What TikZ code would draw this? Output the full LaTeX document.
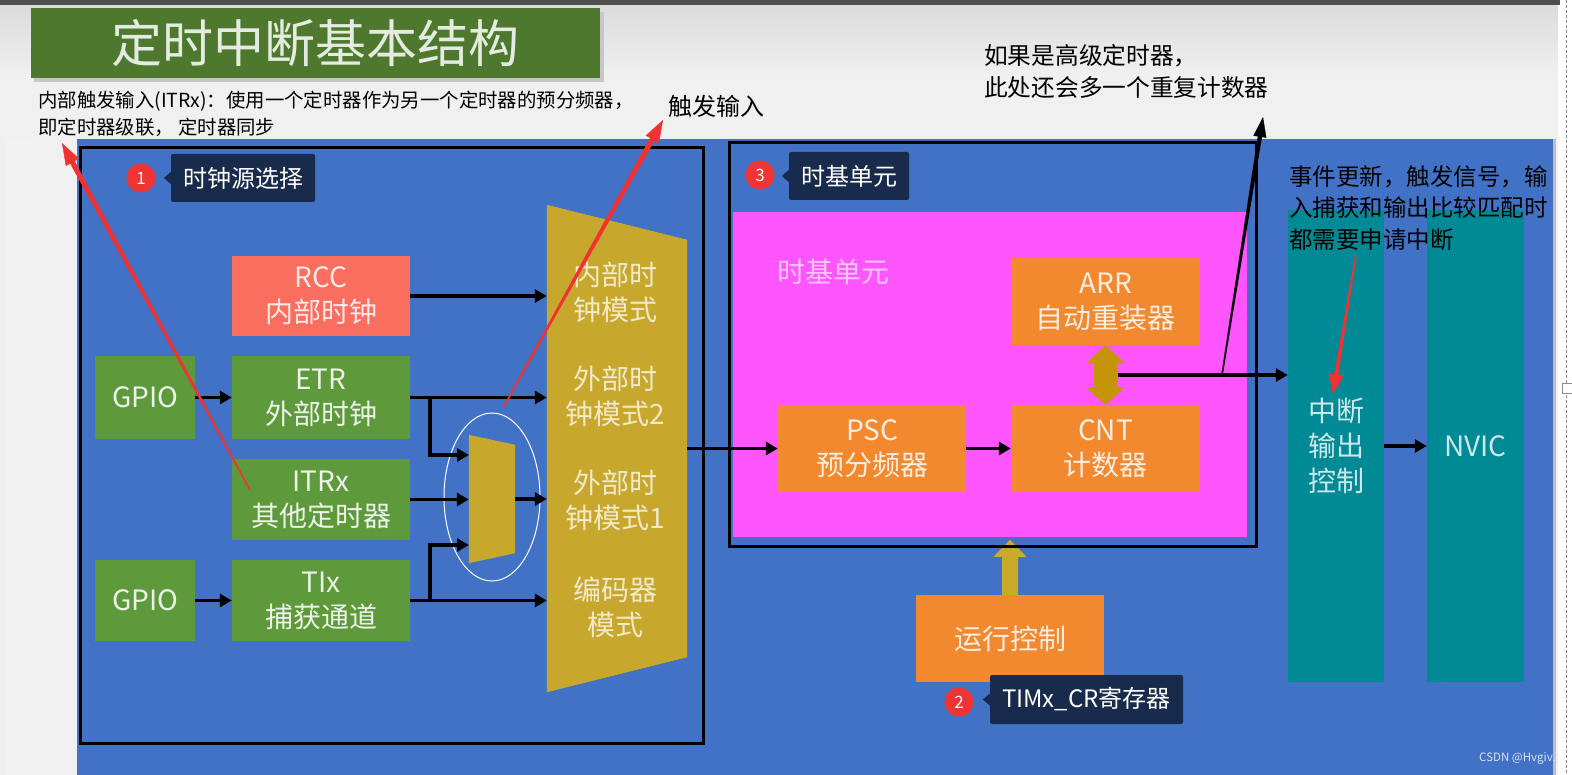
\documentclass[tikz,border=0pt]{standalone}
\usepackage{fontspec}
\setmainfont{Noto Sans CJK SC}
\usetikzlibrary{arrows.meta,calc,shapes.geometric}
\definecolor{bgblue}{RGB}{66,114,198}
\definecolor{gGreen}{RGB}{94,154,60}
\definecolor{rccRed}{RGB}{250,110,95}
\definecolor{muxGold}{RGB}{200,168,44}
\definecolor{pinkM}{RGB}{255,85,255}
\definecolor{orangeB}{RGB}{242,137,46}
\definecolor{dArrGold}{RGB}{198,148,8}
\definecolor{upGold}{RGB}{202,170,40}
\definecolor{tealC}{RGB}{0,138,150}
\definecolor{navyL}{RGB}{24,43,77}
\definecolor{redC}{RGB}{238,52,52}
\definecolor{titleG}{RGB}{78,120,46}
\definecolor{topBar}{RGB}{78,78,78}
\definecolor{paleBg}{RGB}{240,240,240}
\definecolor{annRed}{RGB}{240,50,50}
\newcommand\annarrow[7]{%
  \path ($(#3)!10pt!(#2)$) coordinate (#3-e);
  \fill[#1] ($(#2)!#4!90:(#3)$) -- ($(#2)!#4!-90:(#3)$) -- ($(#3-e)!#5!90:(#2)$) -- ($(#3-e)!#5!-90:(#2)$) -- cycle;
  \draw[#1, line width=0.4pt, -{Triangle[length=#6,width=#7]}] ($(#3)!30pt!(#2)$) -- (#3);
}
\tikzset{
  blk/.style={inner sep=0pt, align=center, font=\fontsize{28}{35}\selectfont},
  greenb/.style={blk, fill=gGreen, text=white!88!gGreen},
  orangeb/.style={blk, fill=orangeB, text=white!85!orangeB},
  tealb/.style={blk, fill=tealC, text=white!80!tealC},
  muxt/.style={blk, text=white!75!muxGold},
  ar/.style={line width=3.5pt, -{Triangle[length=12pt,width=13pt]}},
  lab/.style={fill=navyL, text=white, inner sep=0pt, rounded corners=2pt, font=\fontsize{24}{28}\selectfont},
  num/.style={circle, fill=redC, text=white, inner sep=0pt, minimum size=29pt, font=\fontsize{17}{20}\selectfont},
  note/.style={inner sep=0pt, align=left, text=black, anchor=west},
  bframe/.style={draw=black, line width=3pt, inner sep=0pt},
}
\begin{document}
\begin{tikzpicture}[x=1pt,y=-1pt]
\useasboundingbox (0,0) rectangle (1572,775);
% background
\fill[paleBg] (0,0) rectangle (1572,775);
\shade[top color=black!14, bottom color=paleBg] (0,5) rectangle (1558,75);
\fill[black!5] (5,138) rectangle (32,775);
\fill[white] (1558,0) rectangle (1572,775);
\fill[topBar] (0,0) rectangle (1560,5);
\draw[black!45, line width=0.8pt, dash pattern=on 3pt off 2pt] (1566,0) -- (1566,775);
\node[draw=black!45, fill=white, line width=0.8pt, minimum width=12pt, minimum height=10pt, inner sep=0pt] (handle) at (1568,388) {};
\fill[black!25] (1553,139) rectangle (1556,775);
\fill[bgblue] (77,139) rectangle (1553,775);
% title
\fill[black!22] (34,12) rectangle (604,82);
\node[fill=titleG, minimum width=569pt, minimum height=70pt, inner sep=0pt, font=\fontsize{51}{55}\selectfont, text=white!85!titleG] (title) at (315.5,43) {定时中断基本结构};
% notes
\node[note, font=\fontsize{19.4}{27}\selectfont] (n1) at (38,113.5) {内部触发输入(ITRx)：使用一个定时器作为另一个定时器的预分频器，\\即定时器级联， 定时器同步};
\node[note, font=\fontsize{24}{28}\selectfont] (n2) at (668,106) {触发输入};
\node[note, font=\fontsize{23.7}{32}\selectfont] (n3) at (984,71) {如果是高级定时器，\\此处还会多一个重复计数器};
% frame 1
\node[bframe, minimum width=623pt, minimum height=595pt] (box1) at (391.5,445.5) {};
% clock source blocks
\node[blk, fill=rccRed, text=white!85!rccRed, minimum width=178pt, minimum height=80pt] (rcc) at (321,296) {RCC\\内部时钟};
\node[greenb, minimum width=100pt, minimum height=83pt] (gpio1) at (145,397.5) {GPIO};
\node[greenb, minimum width=178pt, minimum height=83pt] (etr) at (321,397.5) {ETR\\外部时钟};
\node[greenb, minimum width=178pt, minimum height=81pt] (itrx) at (321,499.5) {ITRx\\其他定时器};
\node[greenb, minimum width=100pt, minimum height=81pt] (gpio2) at (145,600.5) {GPIO};
\node[greenb, minimum width=178pt, minimum height=81pt] (tix) at (321,600.5) {TIx\\捕获通道};
% big mux
\node[minimum width=140pt, minimum height=487pt, inner sep=0pt] (mux) at (617,448.5) {};
\fill[muxGold] (mux.north west) -- ([yshift=-35pt]mux.north east) -- ([yshift=35pt]mux.south east) -- (mux.south west) -- cycle;
\node[muxt] (m1) at (615,292) {内部时\\钟模式};
\node[muxt] (m2) at (615,396) {外部时\\钟模式2};
\node[muxt] (m3) at (615,500) {外部时\\钟模式1};
\node[muxt] (m4) at (615,607) {编码器\\模式};
% small mux
\node[minimum width=46pt, minimum height=128pt, inner sep=0pt] (smux) at (492,499) {};
\fill[muxGold] (smux.north west) -- ([yshift=-10pt]smux.north east) -- ([yshift=10pt]smux.south east) -- (smux.south west) -- cycle;
\node[draw=white, line width=1pt, ellipse, minimum width=96pt, minimum height=168pt, inner sep=0pt] (ring) at (492,497) {};
\coordinate (s1) at (469,455);
\coordinate (s3) at (469,545);
% clock arrows
\draw[ar] (rcc.east) -- (rcc.east -| mux.west);
\draw[ar] (gpio1) -- (etr);
\draw[ar] (etr.east) -- (etr.east -| mux.west);
\draw[ar] (etr.east) ++(20,0) |- (s1);
\draw[ar] (itrx.east) -- (itrx.east -| smux.west);
\draw[ar] (smux.east) -- (smux.east -| mux.west);
\draw[ar] (gpio2) -- (tix);
\draw[ar] (tix.east) -- (tix.east -| mux.west);
\draw[ar] (tix.east) ++(20,0) |- (s3);
% time base
\node[fill=pinkM, minimum width=514pt, minimum height=325pt, inner sep=0pt] (pink) at (990,374.5) {};
\node[blk, text=white!65!pinkM] (tbl) at (833,272) {时基单元};
\node[orangeb, minimum width=189pt, minimum height=87pt] (arr) at (1105.5,301.5) {ARR\\自动重装器};
\node[orangeb, minimum width=188pt, minimum height=87pt] (psc) at (872,448.5) {PSC\\预分频器};
\node[orangeb, minimum width=189pt, minimum height=87pt] (cnt) at (1105.5,448.5) {CNT\\计数器};
\node[orangeb, minimum width=188pt, minimum height=87pt] (run) at (1010,638.5) {运行控制};
\draw[ar] (mux.east |- psc.west) -- (psc.west);
\draw[ar] (psc) -- (cnt);
\fill[dArrGold] (arr.south) -- ++(19.5,18) -- ++(-8,0) -- ++(0,24) -- ++(8,0) -- ++(-19.5,18) -- ++(-19.5,-18) -- ++(8,0) -- ++(0,-24) -- ++(-8,0) -- cycle;
\fill[upGold] (run.north) -- ++(-8,0) -- ++(0,-38) -- ++(-8.5,0) -- ++(16.5,-17) -- ++(16.5,17) -- ++(-8.5,0) -- ++(0,38) -- cycle;
\node[bframe, minimum width=527pt, minimum height=403pt] (box3) at (992.5,344.5) {};
% interrupt
\node[tealb, minimum width=96pt, minimum height=472pt] (intc) at (1336,446) {中断\\输出\\控制};
\node[tealb, minimum width=97pt, minimum height=472pt] (nvic) at (1475.5,446) {NVIC};
\coordinate (dmid) at ($(arr.south)!0.5!(cnt.north)$);
\draw[ar] ([xshift=12pt]dmid) -- (dmid -| intc.west);
\draw[ar] (intc) -- (nvic);
\node[note, font=\fontsize{23.5}{31.5}\selectfont] (n4) at (1289,208) {事件更新，触发信号，输\\入捕获和输出比较匹配时\\都需要申请中断};
% labels
\node[lab, minimum width=144pt, minimum height=48pt] (lab1) at (243,178) {时钟源选择};
\fill[navyL] ([yshift=6pt]lab1.west) -- ([xshift=-7pt]lab1.west) -- ([yshift=-6pt]lab1.west) -- cycle;
\node[num] (c1) at (141,178) {1};
\node[lab, minimum width=120pt, minimum height=48pt] (lab3) at (849,176) {时基单元};
\fill[navyL] ([yshift=6pt]lab3.west) -- ([xshift=-7pt]lab3.west) -- ([yshift=-6pt]lab3.west) -- cycle;
\node[num] (c3) at (760,175) {3};
\node[lab, minimum width=193pt, minimum height=49pt] (lab2) at (1086.5,699.5) {TIMx\_CR寄存器};
\fill[navyL] ([yshift=6pt]lab2.west) -- ([xshift=-7pt]lab2.west) -- ([yshift=-6pt]lab2.west) -- cycle;
\node[num] (c2) at (959,702) {2};
\node[anchor=west, inner sep=0pt, font=\fontsize{11.5}{13}\selectfont, text=white!80!bgblue] (wm) at (1479,758) {CSDN @Hvgiv.};
% annotation arrows
\coordinate (r1a) at (250,490); \coordinate (r1b) at (62,143);
\coordinate (r2a) at (503,408); \coordinate (r2b) at (663,120);
\coordinate (r3a) at (1356,255); \coordinate (r3b) at (1333,394);
\coordinate (bka) at (1222,375); \coordinate (bkb) at (1263,117);
\annarrow{annRed}{r1a}{r1b}{0.8pt}{2.7pt}{22pt}{15pt}
\annarrow{annRed}{r2a}{r2b}{0.8pt}{2.7pt}{22pt}{15pt}
\annarrow{annRed}{r3a}{r3b}{0.8pt}{2.2pt}{20pt}{15pt}
\annarrow{black}{bka}{bkb}{0.8pt}{2.2pt}{20pt}{13pt}
\end{tikzpicture}
\end{document}
